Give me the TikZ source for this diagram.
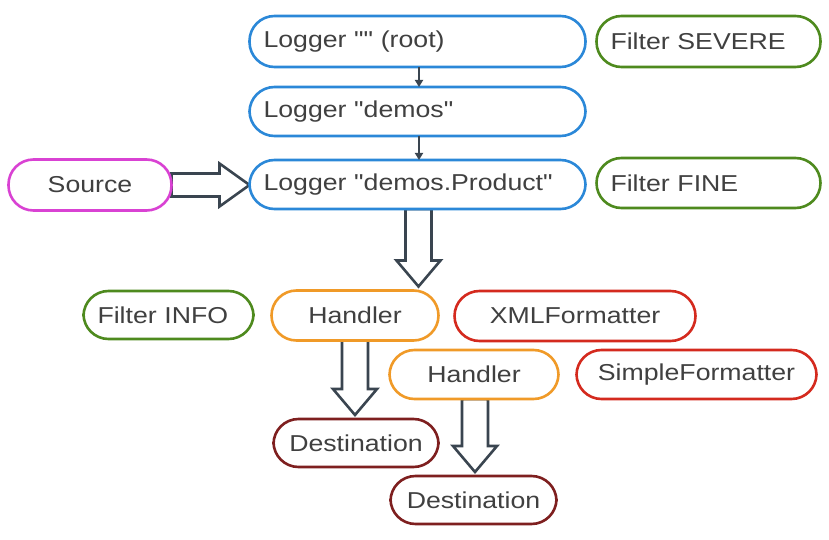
\documentclass[tikz,border=0pt]{standalone}
\usepackage{fontspec}
\setmainfont{Liberation Sans}[FakeStretch=1.16, Ligatures=TeXOff]
\usetikzlibrary{arrows.meta,calc,backgrounds}
\definecolor{cblue}{HTML}{2B88D8}
\definecolor{cgreen}{HTML}{4E8A1E}
\definecolor{cmag}{HTML}{D942D3}
\definecolor{corange}{HTML}{F09A28}
\definecolor{cred}{HTML}{D42A1E}
\definecolor{cdred}{HTML}{7E1F1F}
\definecolor{carrow}{HTML}{3A4550}
\definecolor{ctext}{HTML}{404040}
\newcommand{\qq}{\symbol{34}}
\tikzset{
  box/.style={draw, line width=2.6pt, fill=white, rounded corners=25pt,
    minimum height=50pt, inner xsep=14pt, inner ysep=0pt,
    text=ctext, font=\fontsize{23}{27}\selectfont, outer sep=0pt},
  lbox/.style={box, align=left, text width=#1},
  cbox/.style={box, align=center, minimum width=#1},
  thin arrow/.style={draw=carrow, line width=1.8pt, -{Triangle[length=7pt,width=8pt]}},
  blockarrow/.style={draw=carrow, fill=white, line width=2.6pt, line join=miter},
}
\newcommand{\vblock}[2]{%
  \draw[blockarrow] let \p1=(#1), \p2=(#2) in
    (\x1-13pt,\y1) -- (\x1-13pt,\y2+30pt) -- (\x1-22pt,\y2+30pt) -- (\x1,\y2+4pt)
    -- (\x1+22pt,\y2+30pt) -- (\x1+13pt,\y2+30pt) -- (\x1+13pt,\y1) -- cycle;}
\newcommand{\hblock}[2]{%
  \draw[blockarrow] let \p1=(#1), \p2=(#2) in
    (\x1,\y1+11.5pt) -- (\x2-30pt,\y1+11.5pt) -- (\x2-30pt,\y1+21.5pt) -- (\x2,\y1)
    -- (\x2-30pt,\y1-21.5pt) -- (\x2-30pt,\y1-11.5pt) -- (\x1,\y1-11.5pt) -- cycle;}
\begin{document}
\begin{tikzpicture}[x=1pt,y=-1pt]
\useasboundingbox (0,0) rectangle (829,540);
% loggers
\node[lbox=308pt, draw=cblue, minimum height=51pt] (root) at (417.5,41.5) {Logger \qq\qq{} (root)};
\node[lbox=308pt, draw=cblue, minimum height=49pt] (demos) at (417.5,111.5) {Logger \qq demos\qq};
\node[lbox=308pt, draw=cblue, minimum height=49pt] (product) at (417.5,184.5) {Logger \qq demos.Product\qq};
% filters
\node[lbox=196pt, draw=cgreen, minimum height=51pt] (fsevere) at (708.5,41.5) {Filter SEVERE};
\node[lbox=196pt, draw=cgreen] (ffine) at (708.5,183) {Filter FINE};
\node[lbox=142pt, draw=cgreen, minimum height=48pt] (finfo) at (168.5,315) {Filter INFO};
% source
\node[cbox=163pt, draw=cmag, minimum height=51pt] (source) at (90,185) {Source};
% handlers and formatters
\node[cbox=167pt, draw=corange] (handler1) at (355,315.5) {Handler};
\node[cbox=241pt, draw=cred] (xml) at (575,316) {XMLFormatter};
\node[cbox=169pt, draw=corange, minimum height=49pt] (handler2) at (474,374.5) {Handler};
\node[cbox=240pt, draw=cred, minimum height=49pt] (simple) at (696.5,374.5) {SimpleFormatter};
% destinations
\node[cbox=165pt, draw=cdred, minimum height=48pt] (dest1) at (356,443) {Destination};
\node[cbox=166pt, draw=cdred, minimum height=48pt] (dest2) at (473.5,500) {Destination};
% thin arrows
\draw[thin arrow] ($(root.south)+(1.5,0)$) -- ($(demos.north)+(1.5,0)$);
\draw[thin arrow] ($(demos.south)+(1.5,0)$) -- ($(product.north)+(1.5,0)$);
% block arrows
\begin{scope}[on background layer]
\hblock{source.east}{product.west}
\coordinate (p1) at ($(product.south)+(1,0)$);
\coordinate (h1n) at (p1 |- handler1.north);
\vblock{p1}{h1n}
\coordinate (h1s) at ($(handler1.south)+(0,0)$);
\vblock{h1s}{dest1.north}
\coordinate (h2s) at ($(handler2.south)+(1,0)$);
\vblock{h2s}{dest2.north}
\end{scope}
\end{tikzpicture}
\end{document}
